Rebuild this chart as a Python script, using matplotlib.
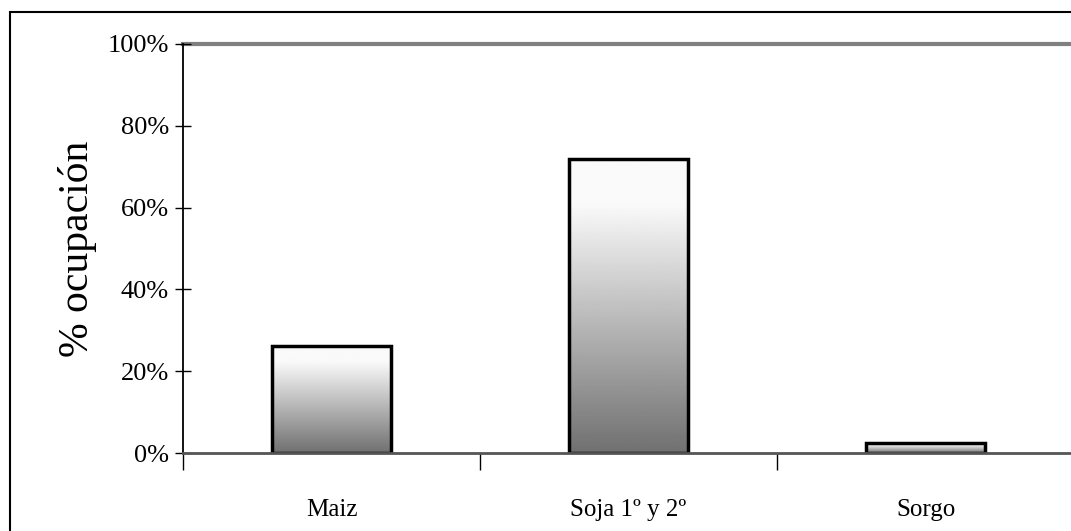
import numpy as np
import matplotlib.pyplot as plt
from matplotlib.patches import Rectangle
from matplotlib.ticker import PercentFormatter

## datos
cultivos = ['Maiz', 'Soja 1º y 2º', 'Sorgo']
ocupacion = [26.2, 71.8, 2.4]

plt.rcParams['font.family'] = ['Liberation Serif', 'DejaVu Serif']

fig = plt.figure(figsize=(10.71, 5.31), dpi=100)
ax = fig.add_axes([183/1071, 1 - 453/531, (1074 - 183)/1071, (453 - 44)/531])

## borde exterior
fig.patches.append(Rectangle((10/1071, -0.01), 1.02, 1 - 12/531 + 0.01,
                             transform=fig.transFigure, fill=False,
                             edgecolor='black', linewidth=1.5))

## barras con degradado (blanco arriba, gris abajo)
ancho = 0.404
x = np.arange(len(cultivos))
bars = ax.bar(x, ocupacion, width=ancho, facecolor='none',
              edgecolor='black', linewidth=2.5, zorder=3)
t = np.linspace(0, 1, 256)
grad = np.where(t < 0.15, 0.98, 0.98 - (t - 0.15) / 0.85 * 0.54).reshape(-1, 1)
for b in bars:
    x0, y0 = b.get_x(), b.get_y()
    ax.imshow(grad, extent=[x0, x0 + b.get_width(), y0, y0 + b.get_height()],
              cmap='gray', vmin=0, vmax=1, aspect='auto', origin='upper', zorder=2)

ax.set_xlim(-0.5, 2.5)
ax.set_ylim(0, 100)

## ejes
for s in ['right', 'top', 'bottom']:
    ax.spines[s].set_visible(False)
ax.spines['left'].set_linewidth(1.3)
ax.axhline(100, color='#808080', linewidth=3, zorder=1, clip_on=False)
ax.axhline(0, color='#555555', linewidth=2, zorder=4, clip_on=False)

ax.set_yticks(np.arange(0, 101, 20))
ax.yaxis.set_major_formatter(PercentFormatter(decimals=0))
ax.tick_params(axis='y', direction='inout', length=12, width=1, labelsize=19, pad=4)

ax.set_xticks(x)
ax.set_xticklabels(cultivos)
ax.set_xticks([-0.5, 0.5, 1.5], minor=True)
ax.tick_params(axis='x', which='major', length=0, labelsize=18, pad=33)
ax.tick_params(axis='x', which='minor', direction='out', length=12, width=1)

ax.set_ylabel('% ocupación', fontsize=30, labelpad=8)

fig.savefig('out.png', dpi=100)
